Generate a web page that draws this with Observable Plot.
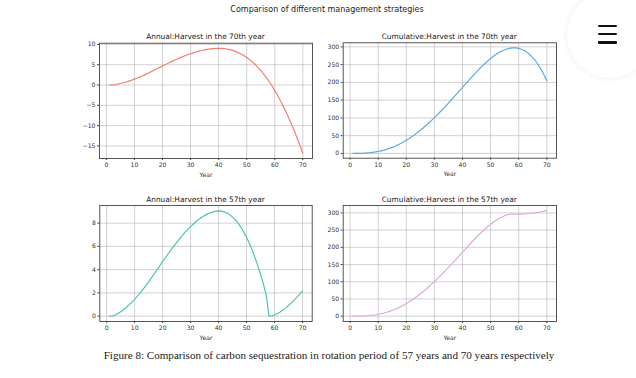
<!DOCTYPE html>
<html>
<head>
<meta charset="utf-8">
<script src="https://cdn.jsdelivr.net/npm/d3@7"></script>
<script src="https://cdn.jsdelivr.net/npm/@observablehq/plot@0.6"></script>
<style>
  html, body { margin: 0; padding: 0; background: #fff; }
  #page { position: relative; width: 636px; height: 378px; overflow: hidden; background: #fff; }
  .panel { position: absolute; }
  .lbl { position: absolute; transform: translate(-50%, -50%); white-space: nowrap;
         font-family: "DejaVu Sans", sans-serif; color: #222; }
  .cap { font-family: "Liberation Serif", "Times New Roman", serif; color: #1a1a1a; }
  #menu { position: absolute; left: 567px; top: -8px; width: 86px; height: 86px; border-radius: 50%;
          background: #fff; box-shadow: 0 0 6px rgba(0,0,0,0.08); }
  .bar { position: absolute; left: 598px; width: 19px; height: 2.4px; background: #111; border-radius: 1px; }
</style>
</head>
<body>
<div id="page"></div>
<script>
// ---- data ----
const years = d3.range(1, 71);
const annual70 = [0.00,0.03,0.10,0.22,0.37,0.55,0.75,0.97,1.20,1.45,
  1.72,2.00,2.30,2.62,2.95,3.30,3.65,4.00,4.35,4.70,
  5.04,5.37,5.70,6.02,6.33,6.63,6.92,7.20,7.46,7.70,
  7.93,8.14,8.33,8.50,8.65,8.78,8.89,8.97,9.03,9.05,
  9.03,8.97,8.87,8.72,8.52,8.28,7.98,7.64,7.24,6.78,
  6.26,5.69,5.05,4.35,3.58,2.75,1.84,0.87,-0.18,-1.31,
  -2.51,-3.80,-5.16,-6.61,-8.14,-9.70,-11.35,-13.10,-14.90,-16.80];
const cumulative70 = [0.0,0.0,0.1,0.3,0.7,1.3,2.0,3.0,4.1,5.6,
  7.3,9.3,11.5,14.1,17.1,20.3,23.9,27.9,32.2,36.9,
  41.8,47.2,52.8,58.8,65.0,71.6,78.4,85.6,93.0,100.6,
  108.4,116.5,124.7,133.2,141.7,150.4,159.2,168.1,177.0,186.0,
  194.9,203.8,212.6,221.2,229.7,237.9,245.8,253.3,260.5,267.2,
  273.4,279.0,284.0,288.3,291.9,294.6,296.4,297.3,297.1,295.8,
  293.3,289.6,284.5,277.9,269.9,260.3,249.0,236.0,221.3,204.7];
const annual57 = [0.00,0.03,0.10,0.22,0.37,0.55,0.75,0.97,1.20,1.45,
  1.72,2.00,2.30,2.62,2.95,3.30,3.65,4.00,4.35,4.70,
  5.04,5.37,5.70,6.02,6.33,6.63,6.92,7.20,7.46,7.70,
  7.93,8.14,8.33,8.50,8.65,8.78,8.89,8.97,9.03,9.05,
  9.03,8.97,8.87,8.72,8.52,8.28,7.98,7.64,7.24,6.78,
  6.26,5.69,5.05,4.35,3.58,2.75,1.84,0.00,0.03,0.10,
  0.21,0.35,0.52,0.71,0.92,1.14,1.38,1.63,1.89,2.17];
const cumulative57 = [0.0,0.0,0.1,0.3,0.7,1.3,2.0,3.0,4.1,5.6,
  7.3,9.3,11.5,14.1,17.1,20.3,23.9,27.9,32.2,36.9,
  41.8,47.2,52.8,58.8,65.0,71.6,78.4,85.6,93.0,100.6,
  108.4,116.5,124.7,133.2,141.7,150.4,159.2,168.1,177.0,186.0,
  194.9,203.8,212.6,221.2,229.7,237.9,245.8,253.3,260.5,267.2,
  273.4,279.0,284.0,288.3,291.9,294.6,296.4,296.4,296.4,296.5,
  296.7,297.1,297.6,298.3,299.2,300.4,301.7,303.4,305.2,307.4];
const xTicks = [0, 10, 20, 30, 40, 50, 60, 70];
const yTicksAnnual70 = [-15, -10, -5, 0, 5, 10];
const yTicksCum = [0, 50, 100, 150, 200, 250, 300];
const yTicksAnnual57 = [0, 2, 4, 6, 8];
const titles = ["Annual:Harvest in the 70th year", "Cumulative:Harvest in the 70th year",
                "Annual:Harvest in the 57th year", "Cumulative:Harvest in the 57th year"];
const colors = ["#f2806f", "#5aaae6", "#4cc6b2", "#ddaadd"];
const suptitle = "Comparison of different management strategies";
const caption = "Figure 8: Comparison of carbon sequestration in rotation period of 57 years and 70 years respectively";

// ---- layout ----
const page = document.getElementById("page");
const fmt = d => d < 0 ? "\u2212" + Math.abs(d) : String(d);

function addLabel(text, x, y, size, cls) {
  const el = document.createElement("div");
  el.className = "lbl" + (cls ? " " + cls : "");
  el.textContent = text;
  el.style.left = x + "px";
  el.style.top = y + "px";
  el.style.fontSize = size + "px";
  page.appendChild(el);
}

function panel(cfg) {
  const data = years.map((yr, i) => ({year: yr, v: cfg.values[i]}));
  const chart = Plot.plot({
    width: cfg.w, height: cfg.h,
    marginLeft: cfg.ml, marginRight: cfg.mr, marginTop: cfg.mt, marginBottom: cfg.mb,
    style: {fontFamily: "DejaVu Sans, sans-serif", fontSize: "6.1px", color: "#333", background: "transparent", overflow: "visible"},
    x: {domain: [-2.45, 73.45]},
    y: {domain: cfg.yDomain},
    marks: [
      Plot.gridX(xTicks, {stroke: "#b8b8b8", strokeOpacity: 0.8, strokeWidth: 0.8}),
      Plot.gridY(cfg.yTicks, {stroke: "#b8b8b8", strokeOpacity: 0.8, strokeWidth: 0.8}),
      Plot.lineY(data, {x: "year", y: "v", stroke: cfg.color, strokeWidth: 1.2}),
      Plot.frame({stroke: "#444", strokeWidth: 0.9}),
      Plot.axisX(xTicks, {tickSize: 2, tickPadding: 2, tickFormat: fmt, label: "Year",
        labelAnchor: "center", labelArrow: "none", labelOffset: 18, stroke: "#444"}),
      Plot.axisY(cfg.yTicks, {tickSize: 2, tickPadding: 2, tickFormat: fmt, label: null, stroke: "#444"})
    ]
  });
  chart.classList.add("panel");
  chart.style.left = cfg.left + "px";
  chart.style.top = cfg.top + "px";
  page.appendChild(chart);
  addLabel(cfg.title, cfg.tx, cfg.ty, 7.4);
}

panel({values: annual70, color: colors[0], yDomain: [-18.1, 10.3], yTicks: yTicksAnnual70,
  left: 70, top: 30, w: 250, h: 150, ml: 29, mr: 8, mt: 12.7, mb: 22, title: titles[0], tx: 205.5, ty: 36});
panel({values: cumulative70, color: colors[1], yDomain: [-13.5, 311.5], yTicks: yTicksCum,
  left: 315, top: 30, w: 250, h: 150, ml: 27.7, mr: 9, mt: 12.3, mb: 22.3, title: titles[1], tx: 449.3, ty: 36});
panel({values: annual57, color: colors[2], yDomain: [-0.46, 9.52], yTicks: yTicksAnnual57,
  left: 70, top: 192, w: 250, h: 150, ml: 29.3, mr: 8.3, mt: 13, mb: 21, title: titles[2], tx: 205.5, ty: 199.3});
panel({values: cumulative57, color: colors[3], yDomain: [-15.4, 321.5], yTicks: yTicksCum,
  left: 315, top: 192, w: 250, h: 150, ml: 27.7, mr: 9, mt: 13, mb: 21, title: titles[3], tx: 449.3, ty: 199.3});

addLabel(suptitle, 327, 9, 8);
addLabel(caption, 329, 355, 11.1, "cap");

// decorative menu button seen at the top right of the screenshot
const menu = document.createElement("div"); menu.id = "menu"; page.appendChild(menu);
[26, 34.3, 42.6].forEach(t => { const b = document.createElement("div"); b.className = "bar"; b.style.top = (t - 1.2) + "px"; page.appendChild(b); });
</script>
</body>
</html>
